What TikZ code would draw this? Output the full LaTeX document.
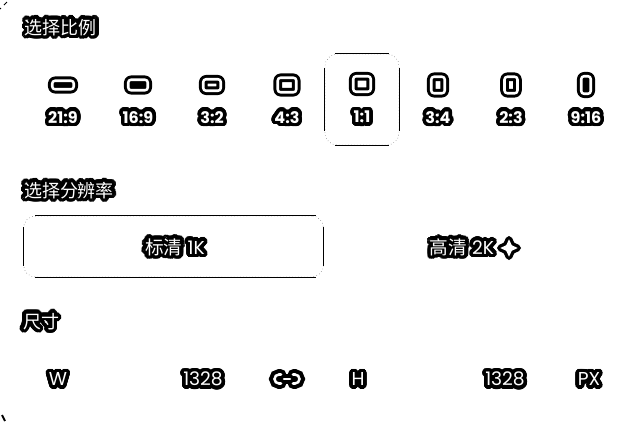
\documentclass[tikz,border=0pt]{standalone}
\usepackage{fontspec}
\usepackage[copies]{contour}
\setmainfont{Poppins}
\newfontfamily\cjk{Noto Sans CJK SC}
\contourlength{2.7pt}
\contournumber{32}
\usetikzlibrary{calc}
\usetikzlibrary{shapes.geometric}
\tikzset{
	title/.style={inner sep=0, text=white, font=\cjk\fontsize{13.5pt}{14pt}\selectfont},
	ratio/.style={inner sep=0, text=white, font=\bfseries\fontsize{12pt}{12pt}\selectfont},
	res/.style={inner sep=0, text=white, font=\fontsize{14pt}{15pt}\selectfont},
	icon/.style={rounded corners=2pt, line join=round},
	selbox/.style={draw, dotted, line width=0.3pt, rounded corners=9pt},
	edge/.style={line width=0.75pt},
	tick/.style={line width=0.75pt}
}
\newcommand{\halo}[1]{\contour{black}{#1}}
% ring around the centre, with its outside and inside halo
\newcommand{\ratioicon}[6]{
	\coordinate (#1) at (#2, #3);
	\draw [icon, line width=6.4pt, #6] ($(#1) + (-#4, -#5)$) rectangle ($(#1) + (#4, #5)$);
	\draw [icon, line width=1.9pt, white] ($(#1) + (-#4, -#5)$) rectangle ($(#1) + (#4, #5)$);
}
\begin{document}
\begin{tikzpicture}[x=0.75pt, y=-0.75pt]
\useasboundingbox (0, 0) rectangle (640, 422);

	\node [title] (ratiotitle) at (61, 29) {\halo{选择比例}};

	\ratioicon{i219}{63}{85}{10.75}{4.25}{black, fill=black}
	\ratioicon{i169}{138}{85}{9.75}{5.25}{black, fill=black}
	\ratioicon{i32}{212}{85}{8.75}{5.75}{black}
	\ratioicon{i43}{287}{85}{9.25}{7.25}{black}
	\ratioicon{i11}{362}{84}{8.75}{7.75}{black}
	\ratioicon{i34}{438}{85}{6.75}{8.25}{black}
	\ratioicon{i23}{511}{85}{6.5}{8.25}{black}
	\ratioicon{i916}{586}{85}{4.75}{8.75}{black, fill=black}

	\foreach \name/\x/\txt in {r219/63/21:9, r169/138/16:9, r32/212/3:2, r43/287/4:3, r11/362/1:1, r34/438/3:4, r23/511/2:3, r916/586/9:16}
		\node [ratio] (\name) at (\x, 119) {\halo{\txt}};

	\node [selbox, minimum width=55.5pt, minimum height=68.25pt] (sel) at (362, 99.5) {};
	\draw [edge] ($(sel.north west) + (10, 0)$) -- ($(sel.north east) - (10, 0)$);
	\draw [edge] ($(sel.south west) + (10, 0)$) -- ($(sel.south east) - (10, 0)$);
	\draw [edge] ($(sel.north west) + (0, 14)$) -- ($(sel.south west) + (0, -14)$);
	\draw [edge] ($(sel.north east) + (0, 14)$) -- ($(sel.south east) + (0, -14)$);

	\node [title] (restitle) at (69, 192) {\halo{选择分辨率}};

	\node [selbox, minimum width=225pt, minimum height=45.75pt] (res1k) at (173.5, 246.5) {};
	\draw [edge] ($(res1k.north west) + (12, 0)$) -- ($(res1k.north east) - (8, 0)$);
	\draw [edge] ($(res1k.south west) + (12, 0)$) -- ($(res1k.south east) - (8, 0)$);
	\draw [edge] ($(res1k.north west) + (0, 11)$) -- ($(res1k.south west) + (0, -11)$);
	\draw [edge] ($(res1k.north east) + (0, 11)$) -- ($(res1k.south east) + (0, -11)$);
	\node [res] (label1k) at (175, 249) {\halo{{\cjk 标清} 1K}};

	\node [res] (label2k) at (462, 249) {\halo{{\cjk 高清} 2K}};
	\node [star, star points=4, star point ratio=2.2, minimum size=13pt, inner sep=0, fill=white,
		preaction={draw=black, line width=5pt, line join=round}] (spark) at (509, 248) {};

	\node [title] (sizetitle) at (41, 323) {\halo{尺寸}};

	\node [res] (wlabel) at (58, 381) {\halo{W}};
	\node [res] (wvalue) at (203, 381) {\halo{1328}};
	\foreach \c/\w in {black/8pt, white/1.9pt} {
		\draw [\c, line width=\w, line cap=round] (281, 374.5) -- (279, 374.5) arc (270:90:4.5) -- (281, 383.5);
		\draw [\c, line width=\w, line cap=round] (293, 374.5) -- (295, 374.5) arc (-90:90:4.5) -- (293, 383.5);
		\draw [\c, line width=\w, line cap=round] (284, 379) -- (290, 379);
	}
	\node [res] (hlabel) at (358, 381) {\halo{H}};
	\node [res] (hvalue) at (505, 381) {\halo{1328}};
	\node [res] (unit) at (589, 381) {\halo{PX}};

	\draw [tick] (0, 9) -- (1, 8);
	\draw [tick] (4, 5) -- (7, 2);
	\draw [tick, line width=1.5pt] (2, 415) -- (5, 421);
\end{tikzpicture}
\end{document}
